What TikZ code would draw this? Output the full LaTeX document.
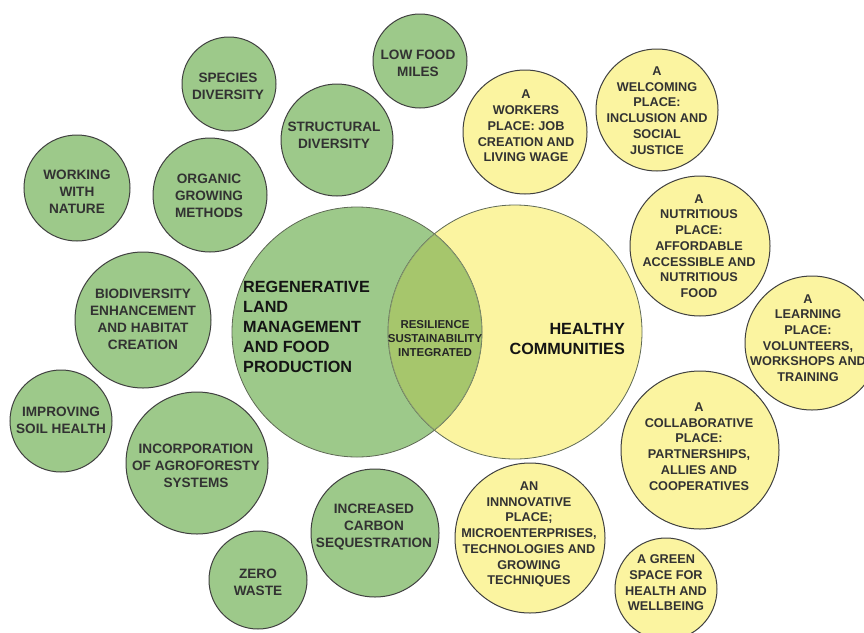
\documentclass[tikz,border=0pt]{standalone}
\usepackage{fontspec}
\setmainfont{Liberation Sans}
\definecolor{gfill}{RGB}{157,201,138}
\definecolor{yfill}{RGB}{251,244,160}
\definecolor{lensc}{RGB}{166,198,108}
\definecolor{rim}{RGB}{64,64,64}
\definecolor{bigrim}{RGB}{95,105,85}
\definecolor{lensrim}{RGB}{140,160,115}
\definecolor{txt}{RGB}{50,50,50}
\begin{document}
\begin{tikzpicture}[x=1pt,y=-1pt,
  gbub/.style={circle,draw=rim,line width=1pt,fill=gfill,inner sep=0pt,minimum size=#1pt},
  ybub/.style={circle,draw=rim,line width=1pt,fill=yfill,inner sep=0pt,minimum size=#1pt},
  gtxt/.style={align=center,text=txt,font=\bfseries\fontsize{13.6}{17.2}\selectfont,inner sep=0pt},
  ytxt/.style={align=center,text=txt,font=\bfseries\fontsize{12.7}{15.7}\selectfont,inner sep=0pt},
  bigtxt/.style={text=black!92,font=\bfseries\fontsize{16.2}{20}\selectfont,inner sep=0pt},
  lenstxt/.style={align=center,text=black!85,font=\bfseries\fontsize{11.5}{14}\selectfont,inner sep=0pt},
]
\useasboundingbox (0,0) rectangle (864,632);
\clip (0,0) rectangle (864,632);
\fill[white] (0,0) rectangle (864,632);

% big circles
\fill[yfill] (515,332) circle[radius=127];
\fill[gfill] (357,332) circle[radius=125];
\begin{scope}
  \clip (515,332) circle[radius=127];
  \fill[lensc] (357,332) circle[radius=125];
\end{scope}
\draw[bigrim,line width=0.8pt] (515,332) circle[radius=127];
\draw[bigrim,line width=0.8pt] (357,332) circle[radius=125];
\begin{scope}
  \clip (515,332) circle[radius=127];
  \clip (357,332) circle[radius=125];
  \draw[lensrim,line width=1.2pt] (515,332) circle[radius=127];
  \draw[lensrim,line width=1.2pt] (357,332) circle[radius=125];
\end{scope}
\coordinate (bigG) at (357,332);
\coordinate (bigY) at (515,332);

\node[bigtxt,align=left,anchor=west] (tRegen) at (243,327) {REGENERATIVE\\LAND\\MANAGEMENT\\AND FOOD\\PRODUCTION};
\node[bigtxt,align=right,anchor=east] (tHealthy) at (625,339) {HEALTHY\\COMMUNITIES};
\node[lenstxt] (tLens) at (435,339) {RESILIENCE\\SUSTAINABILITY\\INTEGRATED};

% green bubbles
\node[gbub=94]  (cSpecies) at (229,84) {};
\node[gbub=94]  (cLow)     at (420,61) {};
\node[gbub=112] (cStruct)  at (337,140) {};
\node[gbub=106] (cWorking) at (77,188) {};
\node[gbub=114] (cOrganic) at (210,195) {};
\node[gbub=136] (cBio)     at (143,320) {};
\node[gbub=102] (cSoil)    at (61,421) {};
\node[gbub=142] (cAgro)    at (197,463) {};
\node[gbub=98]  (cZero)    at (258,580) {};
\node[gbub=128] (cCarbon)  at (375,533) {};

\node[gtxt] (tSpecies) at (228,86) {SPECIES\\DIVERSITY};
\node[gtxt] (tLow)     at (418,63) {LOW FOOD\\MILES};
\node[gtxt] (tStruct)  at (334,135) {STRUCTURAL\\DIVERSITY};
\node[gtxt] (tWorking) at (77,192) {WORKING\\WITH\\NATURE};
\node[gtxt] (tOrganic) at (209,196) {ORGANIC\\GROWING\\METHODS};
\node[gtxt] (tBio)     at (143,319.5) {BIODIVERSITY\\ENHANCEMENT\\AND HABITAT\\CREATION};
\node[gtxt] (tSoil)    at (61,420) {IMPROVING\\SOIL HEALTH};
\node[gtxt] (tAgro)    at (196,466) {INCORPORATION\\OF AGROFORESTY\\SYSTEMS};
\node[gtxt] (tZero)    at (258,582) {ZERO\\WASTE};
\node[gtxt] (tCarbon)  at (374,527) {INCREASED\\CARBON\\SEQUESTRATION};

% yellow bubbles
\node[ybub=124] (cWorkers) at (525,132) {};
\node[ybub=122] (cWelcome) at (657,110) {};
\node[ybub=140] (cNutri)   at (700,246) {};
\node[ybub=134] (cLearn)   at (812,343) {};
\node[ybub=158] (cCollab)  at (700,450) {};
\node[ybub=150] (cInnov)   at (530,538) {};
\node[ybub=102] (cGreen)   at (666,589) {};

\node[ytxt] (tWorkers) at (526,126) {A\\WORKERS\\PLACE: JOB\\CREATION AND\\LIVING WAGE};
\node[ytxt] (tWelcome) at (657,110.5) {A\\WELCOMING\\PLACE:\\INCLUSION AND\\SOCIAL\\JUSTICE};
\node[ytxt] (tNutri)   at (699,246) {A\\NUTRITIOUS\\PLACE:\\AFFORDABLE\\ACCESSIBLE AND\\NUTRITIOUS\\FOOD};
\node[ytxt] (tLearn)   at (808,338) {A\\LEARNING\\PLACE:\\VOLUNTEERS,\\WORKSHOPS AND\\TRAINING};
\node[ytxt] (tCollab)  at (699,446.5) {A\\COLLABORATIVE\\PLACE:\\PARTNERSHIPS,\\ALLIES AND\\COOPERATIVES};
\node[ytxt] (tInnov)   at (529,534.5) {AN\\INNNOVATIVE\\PLACE;\\MICROENTERPRISES,\\TECHNOLOGIES AND\\GROWING\\TECHNIQUES};
\node[ytxt] (tGreen)   at (666,583) {A GREEN\\SPACE FOR\\HEALTH AND\\WELLBEING};
\end{tikzpicture}
\end{document}
